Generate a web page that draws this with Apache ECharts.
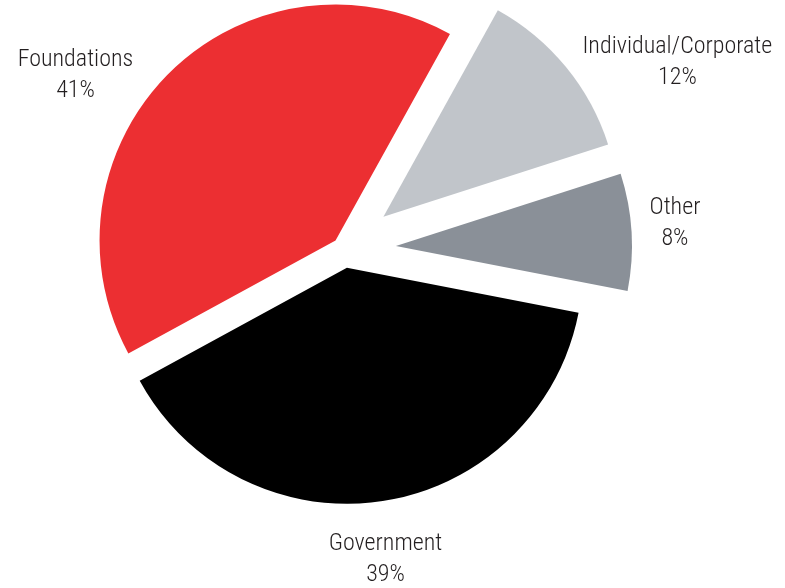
<!DOCTYPE html>
<html>
<head>
<meta charset="utf-8">
<title>Funding sources</title>
<script src="https://cdn.jsdelivr.net/npm/echarts@6/dist/echarts.min.js"></script>
<style>
  html, body { margin: 0; padding: 0; background: #fff; }
  #chart { width: 785px; height: 588px; }
</style>
</head>
<body>
<div id="chart"></div>
<script>
// data
const categories = ['Foundations', 'Individual/Corporate', 'Other', 'Government'];
const shares = [41, 12, 8, 39];

// look
const colors = ['#ec2f32', '#c1c5ca', '#8a9098', '#000000'];
const explode = [12, 51, 52, 19];          // how far each slice is pulled out, px
const labelLen = [[0, 31], [10, 4], [0, 13], [57, 0]];
const labelShift = [[0, 2], [0, 2], [0, -8], [-68, 2]];

const cx = 344, cy = 249, radius = 236, startAngle = 208.6;
const fontFamily = "'Liberation Sans Narrow', 'Roboto Condensed', 'DejaVu Sans Condensed', 'Liberation Sans', sans-serif";

const total = shares.reduce((a, b) => a + b, 0);

// mid angle of each slice (clockwise from startAngle)
let acc = 0;
const mids = shares.map(v => {
	const m = startAngle - (acc + v / 2) / total * 360;
	acc += v;
	return m * Math.PI / 180;
});

const textStyle = { fontSize: 24, fontWeight: 300, lineHeight: 31, color: '#231f20', fontFamily: fontFamily, align: 'center' };

// one series per slice so every slice gets its own offset
const series = categories.map((name, i) => ({
	type: 'pie',
	radius: radius,
	center: [cx + explode[i] * Math.cos(mids[i]), cy - explode[i] * Math.sin(mids[i])],
	startAngle: startAngle,
	clockwise: true,
	avoidLabelOverlap: false,
	silent: true,
	animation: false,
	emphasis: { disabled: true },
	itemStyle: { borderWidth: 0 },
	label: {
		position: 'outside',
		formatter: '{n|{b}}\n{p|{d}%}',
		rich: { n: textStyle, p: textStyle }
	},
	labelLine: { show: false, length: labelLen[i][0], length2: labelLen[i][1] },
	labelLayout: { dx: labelShift[i][0], dy: labelShift[i][1] },
	data: categories.map((n, j) => ({
		name: n,
		value: shares[j],
		itemStyle: { color: j === i ? colors[j] : 'transparent' },
		label: { show: j === i }
	}))
}));

const chart = echarts.init(document.getElementById('chart'));
chart.setOption({
	backgroundColor: '#fff',
	tooltip: { show: false },
	series: series
});
</script>
</body>
</html>
